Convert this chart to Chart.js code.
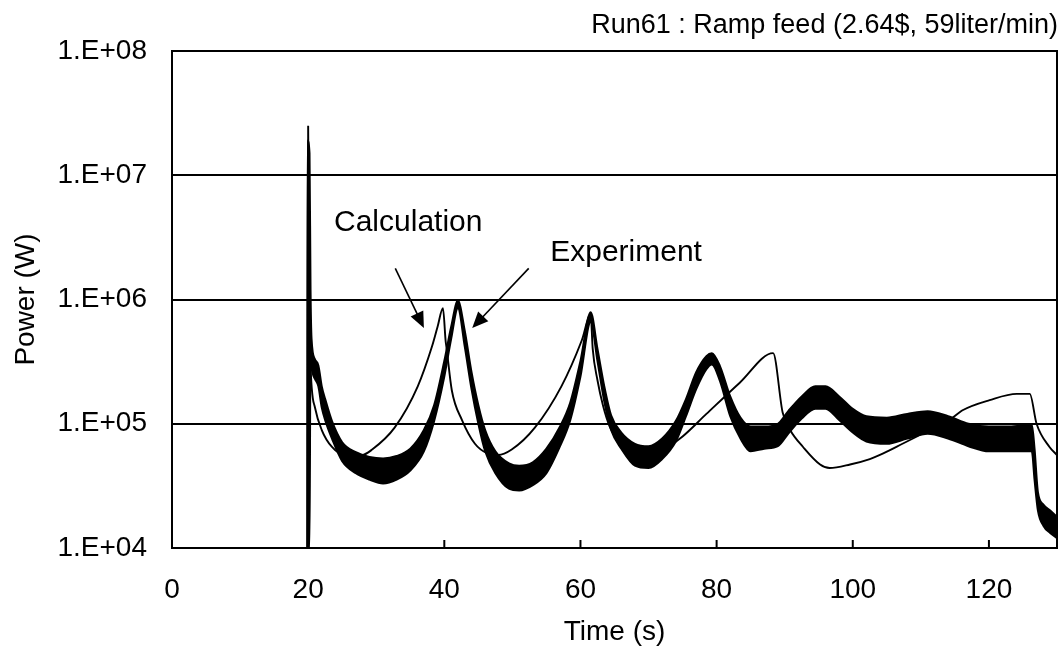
<!DOCTYPE html>
<html><head><meta charset="utf-8">
<script src="https://cdn.jsdelivr.net/npm/chart.js@4/dist/chart.umd.min.js"></script>
<style>html,body{margin:0;padding:0;background:#fff;}canvas{display:block;}</style>
</head><body>
<canvas id="c" width="1062" height="654"></canvas>
<script>
const chartTitle = 'Run61 : Ramp feed (2.64$, 59liter/min)';
const xTitle = 'Time (s)';
const yTitle = 'Power (W)';
const xTicks = [0, 20, 40, 60, 80, 100, 120];
const yTicks = [1e4, 1e5, 1e6, 1e7, 1e8];
const yTickLabels = ['1.E+04', '1.E+05', '1.E+06', '1.E+07', '1.E+08'];

// Calculation (thin line)
const calcTime = [19.99, 20.0, 20.15, 20.3, 21.0, 22.0, 23.5, 25.4, 27.9, 29.4, 32.7, 36.1, 38.2, 39.0, 39.8,
  40.2, 40.3, 41.1, 42.6, 44.5, 46.4, 47.9, 49.9, 53.3, 57.2, 60.2, 61.5,
  61.8, 62.5, 63.3, 64.3, 65.5, 67, 69, 71, 73, 75, 78.5, 83.4, 88.3,
  89.7, 90.8, 92.7, 95.2, 96.6, 99.6, 102.5, 104.4, 107.3, 111.3, 114.2, 116.2, 120.1, 124.1, 126.0,
  127.0, 128.9, 130];
const calcPower = [1e4, 2.5e7, 1.5e6, 3.5e5, 1.35e5, 8.9e4, 6.5e4, 5.6e4, 5.6e4, 6.2e4, 9.3e4, 2.0e5, 4.2e5, 6.0e5, 8.5e5,
  4.6e5, 4.2e5, 1.86e5, 1.07e5, 6.9e4, 5.75e4, 5.6e4, 6.2e4, 9.3e4, 2.0e5, 4.7e5, 7.6e5,
  4.0e5, 2.24e5, 1.41e5, 9.5e4, 7.4e4, 6.2e4, 5.75e4, 5.9e4, 6.6e4, 7.9e4, 1.2e5, 2.14e5, 3.7e5,
  1.23e5, 8.9e4, 6.5e4, 4.7e4, 4.4e4, 4.7e4, 5.2e4, 5.75e4, 6.9e4, 8.9e4, 1.07e5, 1.29e5, 1.55e5, 1.74e5, 1.74e5,
  1.0e5, 6.5e4, 5.6e4];

// Experiment (noisy band: upper and lower envelope)
const expTime = [19.85, 19.9, 20.2, 20.35, 20.5, 21.0, 21.5, 22.0, 22.5, 23.5, 25, 27, 29, 31, 33, 35, 37, 38.5, 40, 41, 42,
  43, 44, 45, 46, 47.5, 49.5, 51, 53, 55, 57, 58.5, 60, 61.5, 62.5, 63.5, 64.5, 66, 68, 70, 72, 74, 75.5, 77, 78.5, 79.3,
  80.5, 82, 83.5, 85, 87, 89, 90.5, 92.5, 94.5, 96, 98, 100, 102, 105, 108, 111, 114, 117, 120, 123, 126.3,
  126.7, 127.2, 128, 129, 130];
const expUpper = [1e4, 1.9e7, 1.5e7, 1.2e6, 4.8e5, 3.3e5, 2.95e5, 2.0e5, 1.58e5, 1.05e5, 7.1e4, 5.9e4, 5.4e4, 5.25e4, 5.5e4, 6.3e4, 8.9e4, 1.41e5, 3.2e5, 6.0e5, 9.8e5,
  5.6e5, 2.6e5, 1.41e5, 8.9e4, 6.0e4, 4.8e4, 4.6e4, 4.9e4, 6.3e4, 9.5e4, 1.48e5, 3.2e5, 7.9e5, 4.0e5, 2.0e5, 1.17e5, 8.5e4, 6.9e4, 6.6e4, 7.6e4, 1.05e5, 1.58e5, 2.6e5, 3.5e5, 3.7e5,
  2.9e5, 1.66e5, 1.12e5, 9.5e4, 9.5e4, 1.0e5, 1.26e5, 1.66e5, 2.0e5, 2.0e5, 1.66e5, 1.32e5, 1.15e5, 1.12e5, 1.2e5, 1.26e5, 1.15e5, 1.0e5, 9.5e4, 9.5e4, 9.8e4,
  6.3e4, 2.8e4, 2.24e4, 2.0e4, 1.78e4];
const expLower = [1e4, 1e4, 1e4, 5.0e5, 3.0e5, 2.3e5, 2.0e5, 1.35e5, 1.07e5, 7.6e4, 5.0e4, 4.0e4, 3.55e4, 3.3e4, 3.55e4, 4.2e4, 6.0e4, 1.05e5, 2.4e5, 4.8e5, 8.5e5,
  4.2e5, 1.9e5, 1.0e5, 6.0e4, 4.0e4, 3.0e4, 2.9e4, 3.2e4, 4.0e4, 6.6e4, 1.07e5, 2.4e5, 6.6e5, 3.2e5, 1.51e5, 8.9e4, 6.3e4, 4.6e4, 4.4e4, 5.2e4, 7.2e4, 1.15e5, 1.9e5, 2.75e5, 3.0e5,
  2.2e5, 1.15e5, 7.6e4, 6.0e4, 6.3e4, 6.6e4, 8.3e4, 1.1e5, 1.32e5, 1.32e5, 1.07e5, 8.5e4, 7.2e4, 6.9e4, 7.6e4, 8.3e4, 7.6e4, 6.6e4, 6.0e4, 6.0e4, 6.0e4,
  3.55e4, 2.0e4, 1.51e4, 1.32e4, 1.2e4];

// Annotations (data coordinates)
const noteLabels = ['Calculation', 'Experiment'];
const noteTextAt = [[34.7, 4.17e6], [66.7, 2.4e6]];
const noteArrowFrom = [[32.8, 1.78e6], [52.4, 1.78e6]];
const noteArrowTo = [[37.0, 5.9e5], [44.1, 5.9e5]];

const FONT = "'Liberation Sans', Arial, sans-serif";
const pts = (xs, ys) => xs.map((x, i) => ({x: x, y: ys[i]}));

const framePlugin = {
  id: 'frame',
  afterDraw(chart) {
    const {ctx, chartArea: a, scales} = chart;
    ctx.save();
    ctx.strokeStyle = '#000';
    ctx.lineWidth = 2;
    ctx.strokeRect(a.left, a.top, a.right - a.left, a.bottom - a.top);
    xTicks.forEach(v => {
      const px = scales.x.getPixelForValue(v);
      ctx.beginPath();
      ctx.moveTo(px, a.bottom);
      ctx.lineTo(px, a.bottom - 8);
      ctx.stroke();
    });
    ctx.fillStyle = '#000';
    ctx.font = '27px ' + FONT;
    ctx.textAlign = 'right';
    ctx.textBaseline = 'alphabetic';
    ctx.fillText(chartTitle, 1058, 33);
    ctx.font = '30px ' + FONT;
    ctx.textAlign = 'center';
    ctx.textBaseline = 'middle';
    noteLabels.forEach((t, i) => {
      const tx = scales.x.getPixelForValue(noteTextAt[i][0]);
      const ty = scales.y.getPixelForValue(noteTextAt[i][1]);
      ctx.fillText(t, tx, ty);
      const x1 = scales.x.getPixelForValue(noteArrowFrom[i][0]);
      const y1 = scales.y.getPixelForValue(noteArrowFrom[i][1]);
      const x2 = scales.x.getPixelForValue(noteArrowTo[i][0]);
      const y2 = scales.y.getPixelForValue(noteArrowTo[i][1]);
      const ang = Math.atan2(y2 - y1, x2 - x1);
      const L = 16, W = 7;
      ctx.lineWidth = 1.6;
      ctx.beginPath();
      ctx.moveTo(x1, y1);
      ctx.lineTo(x2 - Math.cos(ang) * L * 0.8, y2 - Math.sin(ang) * L * 0.8);
      ctx.stroke();
      ctx.beginPath();
      ctx.moveTo(x2, y2);
      ctx.lineTo(x2 - Math.cos(ang) * L + Math.sin(ang) * W, y2 - Math.sin(ang) * L - Math.cos(ang) * W);
      ctx.lineTo(x2 - Math.cos(ang) * L - Math.sin(ang) * W, y2 - Math.sin(ang) * L + Math.cos(ang) * W);
      ctx.closePath();
      ctx.fill();
    });
    ctx.restore();
  }
};

new Chart(document.getElementById('c'), {
  type: 'line',
  data: {
    datasets: [
      {
        label: 'Experiment upper',
        data: pts(expTime, expUpper),
        borderColor: '#000', backgroundColor: '#000', borderWidth: 2,
        pointRadius: 0, fill: '+1', cubicInterpolationMode: 'monotone'
      },
      {
        label: 'Experiment lower',
        data: pts(expTime, expLower),
        borderColor: '#000', backgroundColor: '#000', borderWidth: 2,
        pointRadius: 0, fill: false, cubicInterpolationMode: 'monotone'
      },
      {
        label: 'Calculation',
        data: pts(calcTime, calcPower),
        borderColor: '#000', borderWidth: 1.9,
        pointRadius: 0, fill: false, cubicInterpolationMode: 'monotone'
      }
    ]
  },
  options: {
    responsive: false,
    animation: false,
    devicePixelRatio: 1,
    layout: {padding: {top: 51, right: 5, left: 0, bottom: 0}},
    plugins: {legend: {display: false}, tooltip: {enabled: false}, title: {display: false}},
    scales: {
      x: {
        type: 'linear', min: 0, max: 130,
        afterBuildTicks: s => { s.ticks = xTicks.map(v => ({value: v})); },
        afterFit: s => { s.height = 106; },
        grid: {display: false, drawTicks: false},
        border: {display: false},
        ticks: {color: '#000', font: {family: FONT, size: 28}, padding: 25, maxRotation: 0, autoSkip: false},
        title: {display: true, text: xTitle, color: '#000', font: {family: FONT, size: 28}, padding: {top: 0, bottom: 5}}
      },
      y: {
        type: 'logarithmic', min: 1e4, max: 1e8,
        afterBuildTicks: s => { s.ticks = yTicks.map(v => ({value: v})); },
        afterFit: s => { s.width = 172; },
        grid: {color: '#000', lineWidth: 2, drawTicks: false},
        border: {display: false},
        ticks: {
          color: '#000', font: {family: FONT, size: 28}, padding: 25, autoSkip: false,
          callback: (v) => { const i = yTicks.indexOf(v); return i >= 0 ? yTickLabels[i] : ''; }
        },
        title: {display: true, text: yTitle, color: '#000', font: {family: FONT, size: 28}, padding: {top: 9, bottom: 0}}
      }
    }
  },
  plugins: [framePlugin]
});
</script>
</body></html>
